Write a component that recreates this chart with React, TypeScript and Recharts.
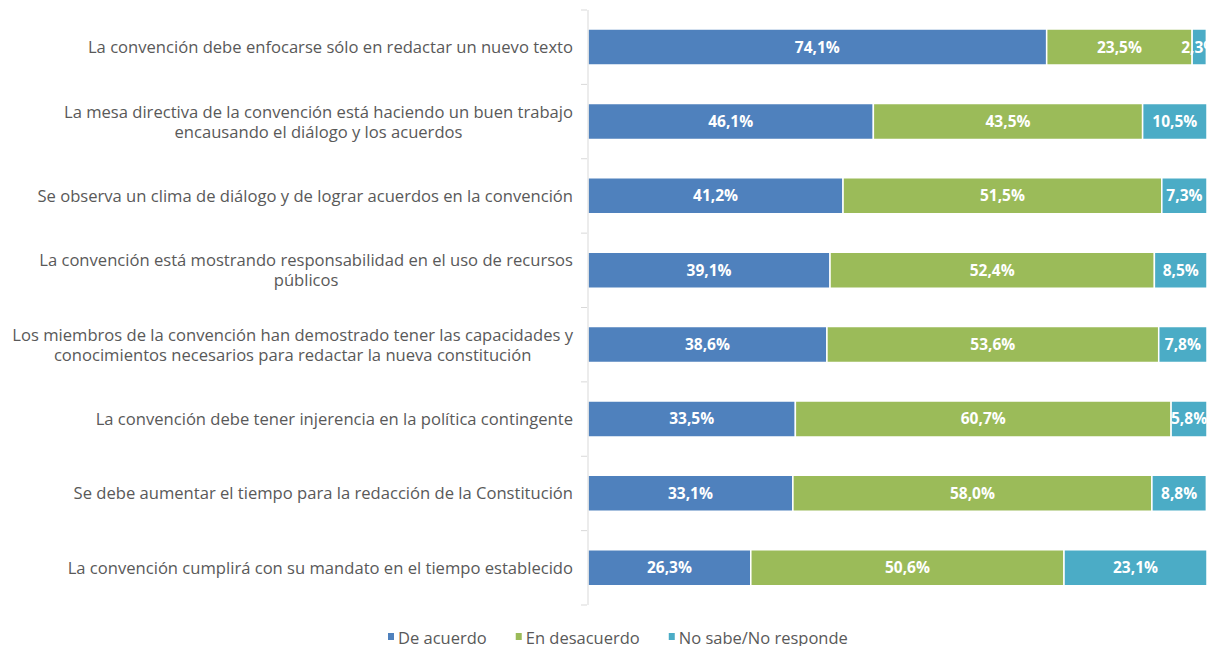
import { BarChart, Bar, XAxis, YAxis, LabelList } from 'recharts';

const categories: string[][] = [
  ['La convención debe enfocarse sólo en redactar un nuevo texto'],
  ['La mesa directiva de la convención está haciendo un buen trabajo', 'encausando el diálogo y los acuerdos'],
  ['Se observa un clima de diálogo y de lograr acuerdos en la convención'],
  ['La convención está mostrando responsabilidad en el uso de recursos', 'públicos'],
  ['Los miembros de la convención han demostrado tener las capacidades y', 'conocimientos necesarios para redactar la nueva constitución'],
  ['La convención debe tener injerencia en la política contingente'],
  ['Se debe aumentar el tiempo para la redacción de la Constitución'],
  ['La convención cumplirá con su mandato en el tiempo establecido'],
];
const deAcuerdo = [74.1, 46.1, 41.2, 39.1, 38.6, 33.5, 33.1, 26.3];
const enDesacuerdo = [23.5, 43.5, 51.5, 52.4, 53.6, 60.7, 58.0, 50.6];
const noSabe = [2.3, 10.5, 7.3, 8.5, 7.8, 5.8, 8.8, 23.1];

const seriesDefs = [
  { key: 'deAcuerdo', name: 'De acuerdo', color: '#4f81bd' },
  { key: 'enDesacuerdo', name: 'En desacuerdo', color: '#9bbb59' },
  { key: 'noSabe', name: 'No sabe/No responde', color: '#4bacc6' },
];

const data = categories.map((lines, i) => ({
  name: lines.join(' '),
  lines,
  deAcuerdo: deAcuerdo[i],
  enDesacuerdo: enDesacuerdo[i],
  noSabe: noSabe[i],
}));

const W = 1207;
const H = 646;
const TOP = 10;
const BOTTOM = 605;
const AXIS_X = 587;
const FONT = "'Open Sans', sans-serif";
const TEXT_SIZE = 16.6;
const LEGEND_SIZE = 16.5;
const band = (BOTTOM - TOP) / categories.length;

let ctx: CanvasRenderingContext2D | null = null;
function measure(t: string, size = TEXT_SIZE) {
  if (!ctx) ctx = document.createElement('canvas').getContext('2d');
  if (!ctx) return t.length * size * 0.45;
  ctx.font = `${size}px ${FONT}`;
  return ctx.measureText(t).width;
}

const fmt = (v: any) => `${Number(v).toFixed(1).replace('.', ',')}%`;

function CategoryTick(props: any) {
  const { y, index } = props;
  const lines: string[] = categories[index] || [];
  const maxW = Math.max(...lines.map(l => measure(l)));
  const right = AXIS_X - 14;
  const cx = right - maxW / 2;
  const lh = 20;
  const y0 = y - 1 - ((lines.length - 1) * lh) / 2;
  return (
    <g>
      <line x1={AXIS_X - 6} x2={AXIS_X} y1={y - band / 2} y2={y - band / 2} stroke="#d9d9d9" />
      {index === categories.length - 1 && (
        <line x1={AXIS_X - 6} x2={AXIS_X} y1={y + band / 2} y2={y + band / 2} stroke="#d9d9d9" />
      )}
      <text x={cx} y={y0} textAnchor="middle" dominantBaseline="central" fill="#595959" fontSize={TEXT_SIZE} fontFamily={FONT}>
        {lines.map((l, i) => (
          <tspan key={i} x={cx} dy={i === 0 ? 0 : lh}>{l}</tspan>
        ))}
      </text>
    </g>
  );
}

function LegendBox() {
  let x = 388;
  const items = seriesDefs.map(s => {
    const item = { ...s, x };
    x += 10 + measure(s.name, LEGEND_SIZE) + 29;
    return item;
  });
  return (
    <svg width={W} height={24} style={{ position: 'absolute', left: 0, top: 624 }}>
      {items.map(s => (
        <g key={s.key}>
          <rect x={s.x} y={9} width={6} height={7} fill={s.color} />
          <text x={s.x + 10} y={13} dominantBaseline="central" fontFamily={FONT} fontSize={LEGEND_SIZE} fill="#595959">{s.name}</text>
        </g>
      ))}
    </svg>
  );
}

export default function App() {
  return (
    <div style={{ position: 'absolute', left: 0, top: 0, width: W, height: H, background: '#fff', overflow: 'hidden' }}>
      <BarChart width={W} height={H} data={data} layout="vertical" barSize={36}
        margin={{ top: TOP, right: 0, bottom: H - BOTTOM, left: 0 }}>
        <XAxis type="number" domain={[0, 100]} hide allowDataOverflow />
        <YAxis type="category" dataKey="name" width={AXIS_X + 1} axisLine={{ stroke: '#d9d9d9' }}
          tickLine={false} tick={<CategoryTick />} interval={0} />
        {seriesDefs.map(s => (
          <Bar key={s.key} dataKey={s.key} name={s.name} stackId="a" fill={s.color}
            stroke="#fff" strokeWidth={1.5} isAnimationActive={false}>
            <LabelList dataKey={s.key} position="center" formatter={fmt} fill="#fff"
              fontSize={15.5} fontWeight="bold" fontFamily={FONT} />
          </Bar>
        ))}
      </BarChart>
      <LegendBox />
    </div>
  );
}
